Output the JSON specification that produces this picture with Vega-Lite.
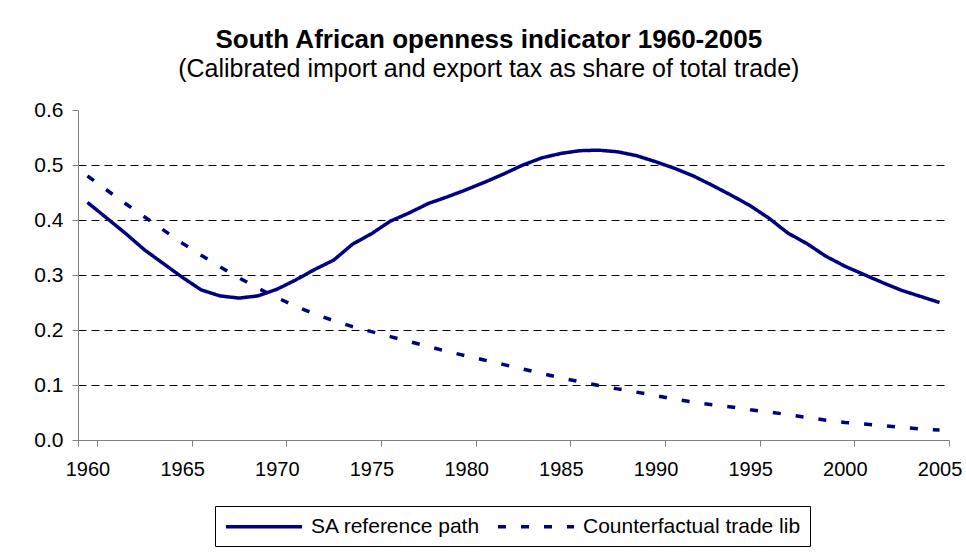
{
  "$schema": "https://vega.github.io/schema/vega-lite/v6.json",
  "width": 871,
  "height": 330,
  "padding": {"left": 33, "top": 27, "right": 10, "bottom": 5},
  "background": "white",
  "title": {
    "text": "South African openness indicator 1960-2005",
    "subtitle": "(Calibrated import and export tax as share of total trade)",
    "font": "Liberation Sans",
    "fontSize": 26,
    "fontWeight": "bold",
    "color": "black",
    "subtitleFont": "Liberation Sans",
    "subtitleFontSize": 25,
    "subtitleColor": "black",
    "subtitlePadding": 4,
    "anchor": "middle",
    "frame": "bounds",
    "dx": -9,
    "offset": 17
  },
  "data": {
    "values": [
      {"year": 1960, "series": "SA reference path", "value": 0.432},
      {"year": 1961, "series": "SA reference path", "value": 0.404},
      {"year": 1962, "series": "SA reference path", "value": 0.376},
      {"year": 1963, "series": "SA reference path", "value": 0.346},
      {"year": 1964, "series": "SA reference path", "value": 0.321},
      {"year": 1965, "series": "SA reference path", "value": 0.296},
      {"year": 1966, "series": "SA reference path", "value": 0.273},
      {"year": 1967, "series": "SA reference path", "value": 0.262},
      {"year": 1968, "series": "SA reference path", "value": 0.258},
      {"year": 1969, "series": "SA reference path", "value": 0.262},
      {"year": 1970, "series": "SA reference path", "value": 0.274},
      {"year": 1971, "series": "SA reference path", "value": 0.291},
      {"year": 1972, "series": "SA reference path", "value": 0.31},
      {"year": 1973, "series": "SA reference path", "value": 0.327},
      {"year": 1974, "series": "SA reference path", "value": 0.356},
      {"year": 1975, "series": "SA reference path", "value": 0.375},
      {"year": 1976, "series": "SA reference path", "value": 0.398},
      {"year": 1977, "series": "SA reference path", "value": 0.413},
      {"year": 1978, "series": "SA reference path", "value": 0.43},
      {"year": 1979, "series": "SA reference path", "value": 0.442},
      {"year": 1980, "series": "SA reference path", "value": 0.455},
      {"year": 1981, "series": "SA reference path", "value": 0.469},
      {"year": 1982, "series": "SA reference path", "value": 0.484},
      {"year": 1983, "series": "SA reference path", "value": 0.5},
      {"year": 1984, "series": "SA reference path", "value": 0.513},
      {"year": 1985, "series": "SA reference path", "value": 0.521},
      {"year": 1986, "series": "SA reference path", "value": 0.526},
      {"year": 1987, "series": "SA reference path", "value": 0.527},
      {"year": 1988, "series": "SA reference path", "value": 0.524},
      {"year": 1989, "series": "SA reference path", "value": 0.517},
      {"year": 1990, "series": "SA reference path", "value": 0.506},
      {"year": 1991, "series": "SA reference path", "value": 0.494},
      {"year": 1992, "series": "SA reference path", "value": 0.48},
      {"year": 1993, "series": "SA reference path", "value": 0.463},
      {"year": 1994, "series": "SA reference path", "value": 0.445},
      {"year": 1995, "series": "SA reference path", "value": 0.426},
      {"year": 1996, "series": "SA reference path", "value": 0.403},
      {"year": 1997, "series": "SA reference path", "value": 0.376},
      {"year": 1998, "series": "SA reference path", "value": 0.357},
      {"year": 1999, "series": "SA reference path", "value": 0.334},
      {"year": 2000, "series": "SA reference path", "value": 0.316},
      {"year": 2001, "series": "SA reference path", "value": 0.301},
      {"year": 2002, "series": "SA reference path", "value": 0.286},
      {"year": 2003, "series": "SA reference path", "value": 0.272},
      {"year": 2004, "series": "SA reference path", "value": 0.261},
      {"year": 2005, "series": "SA reference path", "value": 0.25},
      {"year": 1960, "series": "Counterfactual trade lib", "value": 0.48},
      {"year": 1961, "series": "Counterfactual trade lib", "value": 0.455},
      {"year": 1962, "series": "Counterfactual trade lib", "value": 0.43},
      {"year": 1963, "series": "Counterfactual trade lib", "value": 0.406},
      {"year": 1964, "series": "Counterfactual trade lib", "value": 0.382},
      {"year": 1965, "series": "Counterfactual trade lib", "value": 0.358},
      {"year": 1966, "series": "Counterfactual trade lib", "value": 0.336},
      {"year": 1967, "series": "Counterfactual trade lib", "value": 0.315},
      {"year": 1968, "series": "Counterfactual trade lib", "value": 0.295},
      {"year": 1969, "series": "Counterfactual trade lib", "value": 0.276},
      {"year": 1970, "series": "Counterfactual trade lib", "value": 0.259},
      {"year": 1971, "series": "Counterfactual trade lib", "value": 0.243},
      {"year": 1972, "series": "Counterfactual trade lib", "value": 0.229},
      {"year": 1973, "series": "Counterfactual trade lib", "value": 0.217},
      {"year": 1974, "series": "Counterfactual trade lib", "value": 0.206},
      {"year": 1975, "series": "Counterfactual trade lib", "value": 0.197},
      {"year": 1976, "series": "Counterfactual trade lib", "value": 0.188},
      {"year": 1977, "series": "Counterfactual trade lib", "value": 0.179},
      {"year": 1978, "series": "Counterfactual trade lib", "value": 0.17},
      {"year": 1979, "series": "Counterfactual trade lib", "value": 0.161},
      {"year": 1980, "series": "Counterfactual trade lib", "value": 0.153},
      {"year": 1981, "series": "Counterfactual trade lib", "value": 0.145},
      {"year": 1982, "series": "Counterfactual trade lib", "value": 0.137},
      {"year": 1983, "series": "Counterfactual trade lib", "value": 0.129},
      {"year": 1984, "series": "Counterfactual trade lib", "value": 0.121},
      {"year": 1985, "series": "Counterfactual trade lib", "value": 0.113},
      {"year": 1986, "series": "Counterfactual trade lib", "value": 0.106},
      {"year": 1987, "series": "Counterfactual trade lib", "value": 0.099},
      {"year": 1988, "series": "Counterfactual trade lib", "value": 0.093},
      {"year": 1989, "series": "Counterfactual trade lib", "value": 0.087},
      {"year": 1990, "series": "Counterfactual trade lib", "value": 0.081},
      {"year": 1991, "series": "Counterfactual trade lib", "value": 0.074},
      {"year": 1992, "series": "Counterfactual trade lib", "value": 0.069},
      {"year": 1993, "series": "Counterfactual trade lib", "value": 0.064},
      {"year": 1994, "series": "Counterfactual trade lib", "value": 0.06},
      {"year": 1995, "series": "Counterfactual trade lib", "value": 0.055},
      {"year": 1996, "series": "Counterfactual trade lib", "value": 0.051},
      {"year": 1997, "series": "Counterfactual trade lib", "value": 0.046},
      {"year": 1998, "series": "Counterfactual trade lib", "value": 0.041},
      {"year": 1999, "series": "Counterfactual trade lib", "value": 0.036},
      {"year": 2000, "series": "Counterfactual trade lib", "value": 0.032},
      {"year": 2001, "series": "Counterfactual trade lib", "value": 0.029},
      {"year": 2002, "series": "Counterfactual trade lib", "value": 0.026},
      {"year": 2003, "series": "Counterfactual trade lib", "value": 0.023},
      {"year": 2004, "series": "Counterfactual trade lib", "value": 0.02},
      {"year": 2005, "series": "Counterfactual trade lib", "value": 0.018}
    ]
  },
  "mark": {"type": "line", "strokeWidth": 3.5, "strokeCap": "butt", "strokeJoin": "round"},
  "encoding": {
    "x": {
      "field": "year",
      "type": "ordinal",
      "scale": {"paddingInner": 0, "paddingOuter": 0},
      "axis": {
        "title": null,
        "values": [1960, 1965, 1970, 1975, 1980, 1985, 1990, 1995, 2000, 2005],
        "tickBand": "extent",
        "labelAngle": 0,
        "labelFont": "Liberation Sans",
        "labelFontSize": 20,
        "labelColor": "black",
        "labelPadding": 13,
        "tickSize": 6,
        "tickColor": "#808080",
        "domainColor": "#808080",
        "grid": false
      }
    },
    "y": {
      "field": "value",
      "type": "quantitative",
      "scale": {"domain": [0, 0.6], "nice": false},
      "axis": {
        "title": null,
        "values": [0, 0.1, 0.2, 0.3, 0.4, 0.5, 0.6],
        "format": ".1f",
        "labelFont": "Liberation Sans",
        "labelFontSize": 21,
        "labelColor": "black",
        "labelPadding": 9,
        "tickSize": 6,
        "tickColor": "#808080",
        "domainColor": "#808080",
        "grid": true,
        "gridColor": "black",
        "gridDash": [8, 5],
        "gridWidth": 1,
        "gridOpacity": {"condition": {"test": "datum.value < 0.05 || datum.value > 0.55", "value": 0}, "value": 1}
      }
    },
    "color": {
      "field": "series",
      "type": "nominal",
      "scale": {"domain": ["SA reference path", "Counterfactual trade lib"], "range": ["#000080", "#000080"]},
      "legend": {"orient": "none", "legendX": 137, "legendY": 396, "direction": "horizontal", "title": null}
    },
    "strokeDash": {
      "field": "series",
      "type": "nominal",
      "scale": {"domain": ["SA reference path", "Counterfactual trade lib"], "range": [[1, 0], [8, 15]]},
      "legend": {"orient": "none", "legendX": 137, "legendY": 396, "direction": "horizontal", "title": null}
    }
  },
  "config": {
    "view": {"stroke": null},
    "legend": {
      "symbolType": "M-1,0H7",
      "symbolSize": 361,
      "symbolStrokeWidth": 3.5,
      "labelFont": "Liberation Sans",
      "labelFontSize": 21,
      "labelColor": "black",
      "labelLimit": 400,
      "labelOffset": 64,
      "columnPadding": 10,
      "strokeColor": "black",
      "padding": 9,
      "fillColor": "white"
    }
  }
}
